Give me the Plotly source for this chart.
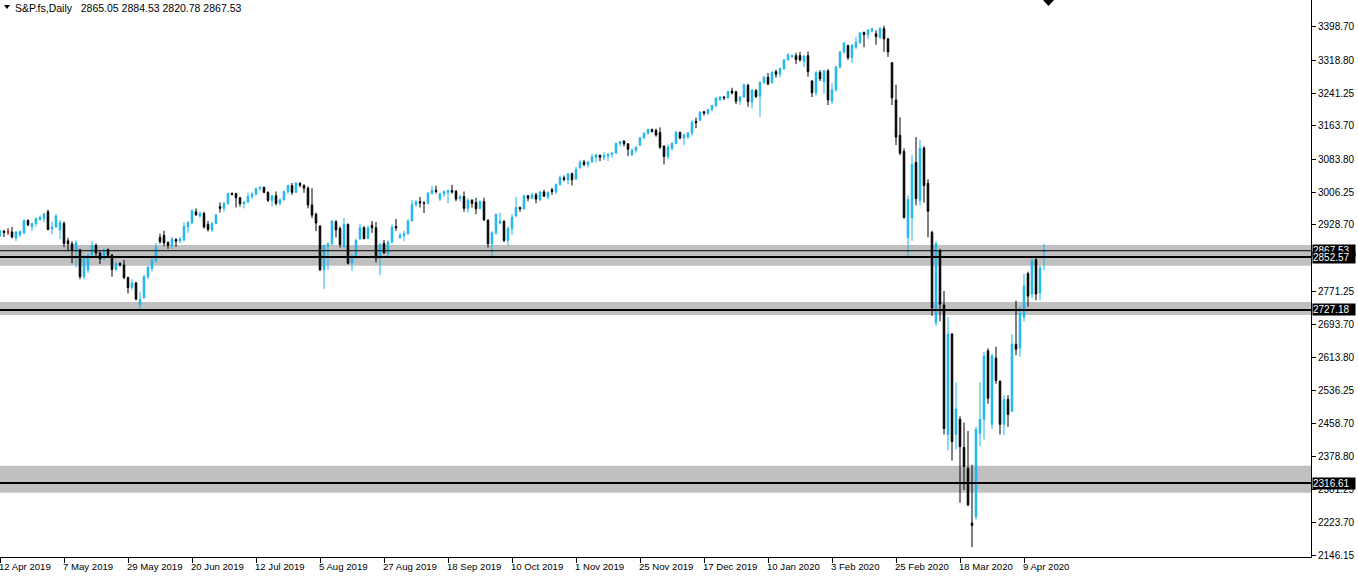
import plotly.graph_objects as go

# ---------------- data ----------------
symbol = "S&P.fs,Daily"

opens = [
    2903, 2914, 2912, 2912, 2898, 2905, 2910, 2939, 2925, 2932,
    2942, 2944, 2960, 2919, 2924, 2917, 2932, 2891, 2884, 2866,
    2870, 2806, 2822, 2858, 2880, 2862, 2848, 2870, 2857, 2823,
    2837, 2834, 2804, 2781, 2791, 2740, 2756, 2806, 2826, 2843,
    2899, 2904, 2887, 2879, 2894, 2891, 2893, 2924, 2934, 2960,
    2950, 2956, 2930, 2917, 2932, 2972, 2968, 2980, 3003, 3003,
    2993, 2979, 2983, 2996, 3002, 3015, 3018, 3006, 2987, 2998,
    2980, 2988, 3008, 3022, 3006, 3027, 3023, 3016, 2976, 2954,
    2926, 2822, 2879, 2884, 2936, 2920, 2877, 2930, 2838, 2851,
    2896, 2922, 2897, 2928, 2922, 2850, 2885, 2862, 2888, 2925,
    2899, 2904, 2908, 2938, 2977, 2984, 2981, 2980, 3004, 3011,
    2990, 3002, 3006, 3010, 3008, 2991, 2996, 2968, 2987, 2982,
    2968, 2984, 2940, 2884, 2910, 2933, 2937, 2892, 2920, 2950,
    2970, 2967, 2998, 2992, 3000, 2988, 3007, 2995, 3012, 3007,
    3024, 3040, 3035, 3050, 3038, 3064, 3078, 3072, 3078, 3089,
    3094, 3089, 3092, 3096, 3099, 3122, 3127, 3121, 3095, 3106,
    3118, 3135, 3146, 3155, 3153, 3148, 3115, 3091, 3110, 3122,
    3148, 3135, 3137, 3146, 3174, 3177, 3197, 3193, 3202, 3212,
    3226, 3232, 3230, 3246, 3244, 3222, 3232, 3260, 3220, 3247,
    3234, 3266, 3279, 3267, 3292, 3287, 3299, 3320, 3328, 3330,
    3330, 3316, 3330, 3270, 3242, 3290, 3268, 3294, 3222, 3249,
    3303, 3339, 3354, 3325, 3350, 3361, 3385, 3380, 3388, 3382,
    3373, 3394, 3370, 3313, 3225, 3141, 3103, 2899, 2946, 3077,
    2987, 3111, 3027, 2911, 2696, 2867, 2739, 2432, 2670, 2432,
    2468, 2401, 2351, 2222, 2237, 2434, 2468, 2630, 2456, 2613,
    2558, 2456, 2515, 2487, 2646, 2637, 2710, 2813, 2765, 2846,
    2768, 2865.05,
]
highs = [
    2918, 2917, 2921, 2924, 2914, 2915, 2942, 2942, 2934, 2946,
    2951, 2957, 2965, 2937, 2955, 2940, 2937, 2898, 2890, 2892,
    2872, 2857, 2860, 2890, 2885, 2866, 2873, 2873, 2860, 2842,
    2840, 2846, 2806, 2800, 2794, 2770, 2810, 2832, 2852, 2886,
    2908, 2915, 2890, 2900, 2897, 2900, 2935, 2938, 2966, 2968,
    2960, 2960, 2938, 2936, 2955, 2982, 2982, 3005, 3006, 3005,
    2995, 2985, 3005, 3006, 3016, 3020, 3019, 3008, 3000, 3008,
    2992, 3010, 3024, 3028, 3030, 3030, 3024, 3020, 3016, 2958,
    2928, 2882, 2887, 2940, 2940, 2925, 2945, 2932, 2860, 2896,
    2932, 2926, 2927, 2938, 2936, 2885, 2893, 2892, 2930, 2943,
    2910, 2915, 2942, 2988, 2988, 2995, 2985, 3006, 3022, 3022,
    3005, 3010, 3013, 3024, 3012, 3000, 3008, 2992, 2990, 2993,
    2986, 2993, 2942, 2914, 2957, 2958, 2940, 2925, 2954, 2995,
    2972, 3000, 3000, 3005, 3005, 3009, 3012, 3008, 3017, 3027,
    3046, 3046, 3052, 3053, 3066, 3082, 3083, 3080, 3097, 3097,
    3095, 3101, 3099, 3101, 3124, 3128, 3130, 3122, 3110, 3115,
    3137, 3148, 3157, 3157, 3157, 3160, 3118, 3120, 3125, 3152,
    3150, 3145, 3148, 3177, 3183, 3198, 3199, 3203, 3213, 3231,
    3234, 3234, 3247, 3254, 3247, 3234, 3263, 3263, 3250, 3251,
    3270, 3282, 3289, 3292, 3297, 3302, 3322, 3336, 3333, 3337,
    3339, 3332, 3340, 3272, 3293, 3296, 3296, 3298, 3265, 3306,
    3340, 3362, 3356, 3357, 3375, 3386, 3387, 3392, 3395, 3390,
    3398, 3401, 3372, 3315, 3261, 3184, 3110, 2999, 3094, 3137,
    3130, 3115, 3037, 2915, 2890, 2872, 2772, 2710, 2672, 2555,
    2475, 2460, 2440, 2360, 2450, 2556, 2628, 2636, 2623, 2640,
    2560, 2525, 2525, 2670, 2749, 2735, 2813, 2818, 2851, 2851,
    2832, 2884.53,
]
lows = [
    2900, 2900, 2905, 2897, 2890, 2900, 2907, 2926, 2915, 2925,
    2939, 2935, 2916, 2906, 2922, 2895, 2876, 2867, 2838, 2828,
    2800, 2800, 2815, 2855, 2855, 2836, 2845, 2853, 2806, 2820,
    2830, 2800, 2766, 2775, 2750, 2730, 2754, 2800, 2818, 2840,
    2884, 2878, 2872, 2872, 2877, 2885, 2890, 2910, 2930, 2950,
    2946, 2920, 2913, 2912, 2930, 2958, 2960, 2977, 2999, 2970,
    2972, 2968, 2980, 2990, 2998, 3010, 3004, 2983, 2973, 2975,
    2975, 2987, 3002, 3000, 3005, 3018, 3005, 2968, 2945, 2914,
    2820, 2777, 2822, 2880, 2899, 2875, 2873, 2835, 2820, 2848,
    2893, 2895, 2895, 2910, 2840, 2810, 2860, 2852, 2885, 2915,
    2895, 2890, 2905, 2937, 2972, 2970, 2957, 2977, 3000, 3003,
    2985, 2995, 2980, 3003, 2985, 2984, 2960, 2958, 2970, 2954,
    2965, 2938, 2875, 2855, 2905, 2930, 2888, 2880, 2905, 2948,
    2960, 2965, 2985, 2990, 2980, 2986, 2995, 2990, 3000, 3002,
    3023, 3032, 3025, 3022, 3035, 3062, 3068, 3065, 3076, 3077,
    3080, 3082, 3080, 3088, 3097, 3115, 3115, 3092, 3092, 3100,
    3116, 3132, 3143, 3148, 3138, 3109, 3072, 3085, 3105, 3120,
    3132, 3118, 3133, 3140, 3158, 3175, 3188, 3190, 3198, 3208,
    3222, 3225, 3228, 3238, 3215, 3213, 3230, 3209, 3205, 3230,
    3185, 3264, 3260, 3263, 3278, 3279, 3297, 3318, 3325, 3310,
    3316, 3303, 3280, 3232, 3235, 3270, 3240, 3213, 3215, 3245,
    3300, 3335, 3320, 3312, 3346, 3358, 3350, 3370, 3385, 3356,
    3370, 3339, 3327, 3213, 3118, 3094, 2944, 2851, 2891, 2975,
    2975, 2982, 2899, 2713, 2690, 2700, 2432, 2394, 2370, 2397,
    2270, 2300, 2262, 2165, 2230, 2405, 2420, 2505, 2445, 2552,
    2432, 2430, 2450, 2485, 2620, 2617, 2700, 2735, 2755, 2750,
    2750, 2820.78,
]
closes = [
    2914, 2911, 2912, 2900, 2912, 2913, 2939, 2929, 2932, 2944,
    2947, 2955, 2918, 2924, 2950, 2934, 2885, 2884, 2868, 2886,
    2806, 2849, 2856, 2880, 2862, 2848, 2870, 2857, 2823, 2837,
    2834, 2804, 2780, 2791, 2753, 2752, 2806, 2828, 2845, 2876,
    2889, 2886, 2880, 2895, 2890, 2895, 2925, 2934, 2962, 2953,
    2956, 2924, 2918, 2932, 2952, 2968, 2980, 3003, 3001, 2993,
    2979, 2983, 2996, 3002, 3015, 3018, 3006, 2987, 2998, 2980,
    2988, 3008, 3022, 3006, 3028, 3023, 3016, 2976, 2952, 2933,
    2822, 2880, 2884, 2938, 2917, 2882, 2930, 2838, 2852, 2892,
    2922, 2896, 2922, 2922, 2850, 2883, 2863, 2888, 2923, 2922,
    2904, 2908, 2938, 2977, 2983, 2981, 2980, 3004, 3011, 3008,
    3002, 3008, 3010, 3007, 2990, 2996, 2968, 2987, 2980, 2967,
    2984, 2941, 2884, 2910, 2953, 2937, 2892, 2920, 2947, 2970,
    2967, 2998, 2992, 3000, 2990, 3007, 2997, 3006, 3008, 3024,
    3041, 3037, 3050, 3036, 3060, 3077, 3072, 3078, 3090, 3095,
    3089, 3093, 3096, 3099, 3122, 3126, 3121, 3108, 3106, 3113,
    3135, 3146, 3155, 3150, 3142, 3113, 3091, 3113, 3122, 3148,
    3135, 3142, 3147, 3172, 3171, 3196, 3194, 3202, 3212, 3229,
    3232, 3230, 3245, 3242, 3222, 3232, 3261, 3221, 3248, 3233,
    3266, 3279, 3263, 3291, 3286, 3299, 3320, 3332, 3330, 3321,
    3320, 3329, 3292, 3242, 3290, 3275, 3294, 3225, 3249, 3303,
    3339, 3360, 3325, 3355, 3362, 3384, 3380, 3391, 3394, 3375,
    3394, 3370, 3339, 3230, 3137, 3099, 2946, 2989, 3072, 2991,
    3111, 3022, 2961, 2732, 2884, 2741, 2446, 2670, 2415, 2492,
    2403, 2356, 2265, 2216, 2444, 2468, 2618, 2518, 2618, 2560,
    2456, 2515, 2479, 2646, 2634, 2718, 2784, 2760, 2844, 2765,
    2827, 2867.53,
]

# date labels of the time axis (one every 16 bars)
tick_labels = [
    "12 Apr 2019", "7 May 2019", "29 May 2019", "20 Jun 2019", "12 Jul 2019",
    "5 Aug 2019", "27 Aug 2019", "18 Sep 2019", "10 Oct 2019", "1 Nov 2019",
    "25 Nov 2019", "17 Dec 2019", "10 Jan 2020", "3 Feb 2020", "25 Feb 2020",
    "18 Mar 2020", "9 Apr 2020",
]
bars_per_label = 16

# price scale labels
price_ticks = [3398.70, 3318.80, 3241.25, 3163.70, 3083.80, 3006.25, 2928.70,
               2771.25, 2693.70, 2613.80, 2536.25, 2458.70, 2378.80, 2301.25,
               2223.70, 2146.15]

# support / resistance
levels = [2852.57, 2727.18, 2316.61]
zones_low = [2832, 2715, 2294]
zones_high = [2881, 2746, 2358]

# red (doji) bars
doji_bars = [2]

# ---------------- styling ----------------
BLUE = "#1DB5E9"
FONT = "Liberation Sans"
W, H = 1358, 577
ML, MR, MT, MB = 0, 47, 0, 20
plot_w = W - ML - MR
plot_h = H - MT - MB
px_per_bar = 4.0

n = len(closes)
idx = list(range(n))

fig = go.Figure()

fig.add_trace(go.Candlestick(
    x=idx, open=opens, high=highs, low=lows, close=closes,
    increasing=dict(line=dict(color=BLUE, width=1), fillcolor=BLUE),
    decreasing=dict(line=dict(color="black", width=1), fillcolor="black"),
    whiskerwidth=0, showlegend=False, hoverinfo="skip",
))
fig.add_trace(go.Candlestick(
    x=[idx[i] for i in doji_bars],
    open=[opens[i] for i in doji_bars], high=[highs[i] for i in doji_bars],
    low=[lows[i] for i in doji_bars], close=[closes[i] for i in doji_bars],
    increasing=dict(line=dict(color="red", width=1), fillcolor="red"),
    decreasing=dict(line=dict(color="red", width=1), fillcolor="red"),
    whiskerwidth=0, showlegend=False, hoverinfo="skip",
))

shapes = []
for lo, hi in zip(zones_low, zones_high):
    shapes.append(dict(type="rect", xref="paper", x0=0, x1=1, yref="y", y0=lo, y1=hi,
                       fillcolor="#C0C0C0", line=dict(width=0), layer="below"))
for lv in levels:
    shapes.append(dict(type="line", xref="paper", x0=0, x1=1, yref="y", y0=lv, y1=lv,
                       line=dict(color="black", width=2), layer="above"))
# bid line
shapes.append(dict(type="line", xref="paper", x0=0, x1=1, yref="y",
                   y0=closes[-1], y1=closes[-1],
                   line=dict(color="black", width=1), layer="above"))
# chart-shift marker (top) and header triangle
cx = 1048.5 / plot_w
shapes.append(dict(type="path", xref="paper", yref="paper",
                   path=f"M {cx-5.5/plot_w},1 L {cx+5.5/plot_w},1 L {cx},{1-6/plot_h} Z",
                   fillcolor="black", line=dict(width=0)))
shapes.append(dict(type="path", xref="paper", yref="paper",
                   path=f"M {4/plot_w},{1-5/plot_h} L {10/plot_w},{1-5/plot_h} L {7/plot_w},{1-9/plot_h} Z",
                   fillcolor="black", line=dict(width=0)))

annotations = []
# header
hdr = symbol + "\u00a0\u00a0\u00a0" + " ".join(
    f"{v:.2f}" for v in (opens[-1], highs[-1], lows[-1], closes[-1]))
annotations.append(dict(xref="paper", yref="paper", x=0, y=1, xanchor="left", yanchor="top",
                        xshift=13, yshift=0, text=hdr, showarrow=False,
                        font=dict(family=FONT, size=10.5, color="black")))
# time axis labels, drawn right of their tick mark (MT4 style)
tick_bars = [k * bars_per_label for k in range(len(tick_labels))]
for b, lab in zip(tick_bars, tick_labels):
    annotations.append(dict(xref="x", yref="paper", x=b, y=0, xanchor="left", yanchor="top",
                            xshift=-3, yshift=-2, text=lab, showarrow=False,
                            font=dict(family=FONT, size=9.6, color="black")))
# price boxes on the scale
for v in [closes[-1]] + levels:
    annotations.append(dict(xref="paper", yref="y", x=1, y=v, xanchor="left", yanchor="middle",
                            xshift=1, text=f"{v:.2f}", showarrow=False, bgcolor="black",
                            width=42, height=11, align="left", borderpad=0,
                            font=dict(family=FONT, size=10, color="white")))

x_right = plot_w / px_per_bar
y_top, y_bot = 3462.0, 2141.4

fig.update_layout(
    width=W, height=H,
    margin=dict(l=ML, r=MR, t=MT, b=MB),
    paper_bgcolor="white", plot_bgcolor="white",
    boxgap=0.45,
    shapes=shapes, annotations=annotations,
    hovermode=False,
    xaxis=dict(range=[0, x_right], rangeslider=dict(visible=False), showgrid=False,
               zeroline=False, showline=True, linecolor="black", linewidth=1,
               ticks="outside", ticklen=5, tickcolor="black", tickwidth=1,
               tickvals=tick_bars, showticklabels=False, fixedrange=True),
    yaxis=dict(range=[y_bot, y_top], side="right", showgrid=False, zeroline=False,
               showline=True, linecolor="black", linewidth=1,
               ticks="outside", ticklen=4, tickcolor="black", tickwidth=1,
               tickvals=price_ticks, ticktext=[f"{v:.2f}" for v in price_ticks],
               tickfont=dict(family=FONT, size=10, color="black"), fixedrange=True),
    font=dict(family=FONT, size=10, color="black"),
)

fig.write_html("out.html", config={"displayModeBar": False},
               post_script="document.body.style.margin='0px';document.body.style.overflow='hidden';")
